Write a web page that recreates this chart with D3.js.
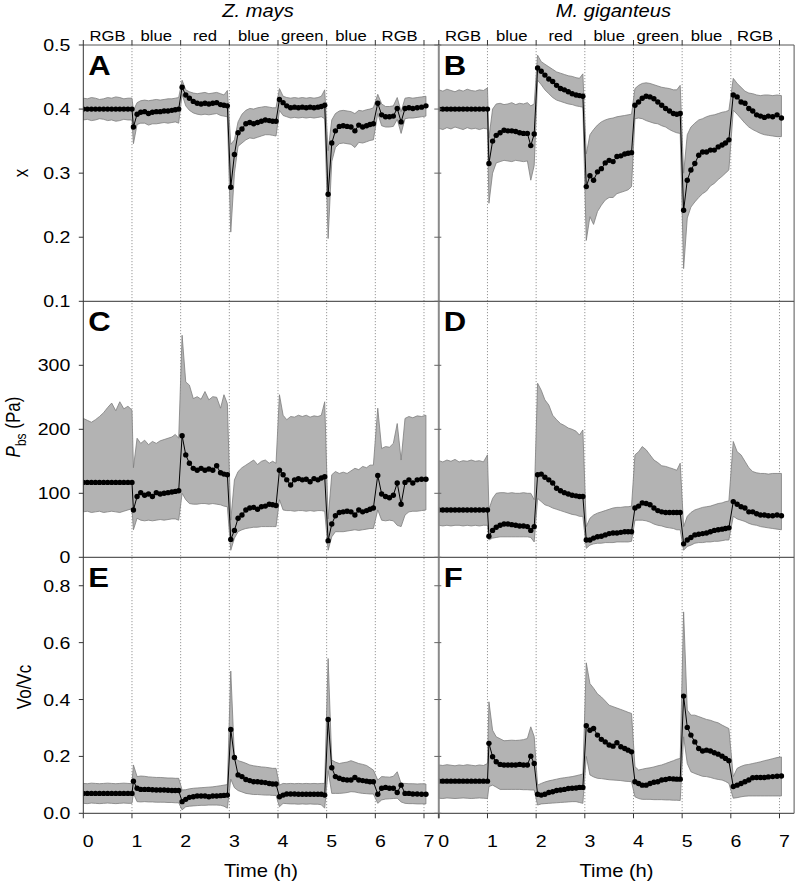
<!DOCTYPE html>
<html><head><meta charset="utf-8">
<script src="https://cdn.jsdelivr.net/npm/d3@7"></script>
<style>
body{margin:0;background:#fff}
svg{display:block}
text{font-family:"Liberation Sans",Arial,Helvetica,sans-serif;fill:#000}
</style>
</head><body>
<svg id="chart" width="797" height="885"></svg>
<script>
// ---------------- DATA ----------------
const timeH = [
  0,0.083,0.167,0.25,0.333,0.417,0.5,0.583,0.667,0.75,0.833,0.917,1.0,
  1.03,1.105,1.18,1.26,1.34,1.42,1.50,1.58,1.66,1.74,1.82,1.89,1.96,
  2.03,2.105,2.18,2.26,2.34,2.42,2.50,2.58,2.66,2.74,2.82,2.89,2.96,
  3.03,3.105,3.18,3.26,3.34,3.42,3.50,3.58,3.66,3.74,3.82,3.89,3.96,
  4.03,4.105,4.18,4.26,4.34,4.42,4.50,4.58,4.66,4.74,4.82,4.89,4.96,
  5.03,5.105,5.18,5.26,5.34,5.42,5.50,5.58,5.66,5.74,5.82,5.89,5.96,
  6.05,6.13,6.21,6.29,6.37,6.45,6.53,6.61,6.69,6.77,6.86,6.95,7.04
];
const periodLabels = ["RGB","blue","red","blue","green","blue","RGB"];
const periodMid = [0.5,1.5,2.5,3.5,4.5,5.5,6.5];
const xTicks = [0,1,2,3,4,5,6,7];
const xTickLabels = ["0","1","2","3","4","5","6","7"];
const speciesNames = ["Z. mays","M. giganteus"];

const yTicksX = [0.1,0.2,0.3,0.4,0.5];
const yTickLabelsX = ["0.1","0.2","0.3","0.4","0.5"];
const yTicksP = [0,100,200,300];
const yTickLabelsP = ["0","100","200","300"];
const yTicksV = [0,0.2,0.4,0.6,0.8];
const yTickLabelsV = ["0.0","0.2","0.4","0.6","0.8"];

// Panel A: Z. mays, x
const meanA = [
  0.400,0.400,0.400,0.400,0.400,0.400,0.400,0.400,0.400,0.400,0.400,0.400,0.400,
  0.372,0.392,0.395,0.396,0.393,0.395,0.396,0.396,0.397,0.397,0.398,0.399,0.400,
  0.434,0.422,0.417,0.412,0.409,0.408,0.409,0.408,0.409,0.410,0.407,0.406,0.405,
  0.278,0.329,0.363,0.369,0.377,0.379,0.377,0.379,0.381,0.383,0.382,0.381,0.381,
  0.415,0.410,0.405,0.402,0.403,0.402,0.403,0.402,0.403,0.402,0.403,0.404,0.406,
  0.267,0.347,0.366,0.373,0.374,0.373,0.372,0.366,0.375,0.372,0.374,0.376,0.377,
  0.409,0.391,0.388,0.388,0.389,0.401,0.380,0.401,0.402,0.401,0.402,0.403,0.405
];
const upperA = [
  0.417,0.416,0.418,0.417,0.415,0.416,0.418,0.417,0.419,0.418,0.416,0.417,0.417,
  0.398,0.410,0.413,0.414,0.413,0.414,0.415,0.414,0.415,0.416,0.416,0.417,0.418,
  0.445,0.430,0.427,0.425,0.424,0.425,0.426,0.424,0.425,0.426,0.424,0.422,0.429,
  0.345,0.352,0.380,0.392,0.398,0.401,0.400,0.402,0.403,0.404,0.403,0.402,0.402,
  0.432,0.420,0.418,0.417,0.418,0.417,0.418,0.417,0.418,0.417,0.418,0.420,0.430,
  0.335,0.383,0.393,0.397,0.398,0.397,0.396,0.393,0.398,0.397,0.399,0.400,0.402,
  0.423,0.408,0.404,0.404,0.405,0.418,0.396,0.417,0.418,0.417,0.418,0.419,0.420
];
const lowerA = [
  0.383,0.384,0.382,0.383,0.385,0.384,0.382,0.383,0.381,0.382,0.384,0.383,0.383,
  0.346,0.376,0.378,0.378,0.375,0.377,0.377,0.378,0.379,0.378,0.379,0.380,0.378,
  0.423,0.405,0.398,0.394,0.392,0.391,0.392,0.391,0.392,0.393,0.390,0.389,0.388,
  0.208,0.300,0.342,0.347,0.352,0.355,0.354,0.356,0.358,0.360,0.360,0.359,0.358,
  0.398,0.390,0.388,0.386,0.387,0.386,0.387,0.386,0.387,0.386,0.387,0.388,0.385,
  0.198,0.318,0.340,0.346,0.347,0.346,0.345,0.340,0.348,0.347,0.349,0.351,0.352,
  0.393,0.374,0.372,0.372,0.373,0.384,0.362,0.385,0.386,0.386,0.387,0.388,0.389
];

// Panel B: M. giganteus, x
const meanB = [
  0.400,0.400,0.400,0.400,0.400,0.400,0.400,0.400,0.400,0.400,0.400,0.400,0.400,
  0.315,0.350,0.359,0.363,0.367,0.366,0.366,0.365,0.363,0.362,0.362,0.343,0.361,
  0.464,0.459,0.453,0.447,0.443,0.437,0.432,0.430,0.427,0.424,0.422,0.421,0.420,
  0.279,0.296,0.289,0.302,0.307,0.316,0.320,0.318,0.326,0.327,0.330,0.331,0.332,
  0.406,0.411,0.417,0.420,0.419,0.416,0.411,0.406,0.401,0.397,0.393,0.392,0.393,
  0.242,0.289,0.305,0.315,0.328,0.333,0.333,0.336,0.336,0.341,0.344,0.347,0.352,
  0.422,0.419,0.411,0.409,0.401,0.397,0.391,0.389,0.387,0.389,0.388,0.391,0.386
];
const upperB = [
  0.430,0.428,0.431,0.429,0.427,0.430,0.428,0.431,0.429,0.428,0.430,0.429,0.433,
  0.355,0.400,0.408,0.409,0.407,0.408,0.410,0.407,0.409,0.408,0.410,0.405,0.408,
  0.484,0.474,0.470,0.466,0.462,0.458,0.456,0.454,0.452,0.451,0.449,0.448,0.455,
  0.330,0.360,0.368,0.375,0.380,0.383,0.385,0.386,0.388,0.389,0.390,0.391,0.392,
  0.432,0.437,0.440,0.441,0.440,0.438,0.436,0.434,0.433,0.432,0.430,0.430,0.437,
  0.300,0.360,0.372,0.378,0.383,0.385,0.388,0.390,0.391,0.393,0.395,0.396,0.398,
  0.448,0.440,0.434,0.428,0.425,0.424,0.422,0.421,0.422,0.422,0.421,0.422,0.421
];
const lowerB = [
  0.370,0.368,0.371,0.369,0.372,0.370,0.368,0.371,0.369,0.370,0.368,0.370,0.369,
  0.253,0.300,0.316,0.318,0.320,0.319,0.318,0.320,0.319,0.318,0.319,0.289,0.312,
  0.445,0.438,0.430,0.424,0.418,0.414,0.412,0.410,0.408,0.407,0.405,0.404,0.403,
  0.195,0.232,0.220,0.240,0.250,0.258,0.262,0.262,0.268,0.270,0.272,0.274,0.279,
  0.385,0.386,0.385,0.382,0.380,0.378,0.377,0.374,0.372,0.368,0.365,0.363,0.362,
  0.151,0.230,0.247,0.255,0.262,0.268,0.272,0.280,0.284,0.290,0.295,0.300,0.305,
  0.398,0.392,0.385,0.378,0.372,0.368,0.365,0.362,0.360,0.359,0.358,0.357,0.357
];

// Panel C: Z. mays, Pbs (Pa)
const meanC = [
  117,117,117,117,117,117,117,117,117,117,117,117,117,
  74,95,101,97,99,95,101,99,100,101,102,103,104,
  190,160,147,139,136,139,136,138,136,143,132,130,129,
  28,42,61,66,74,77,78,75,79,80,83,82,81,
  136,129,121,113,121,123,121,122,118,123,121,124,126,
  26,52,65,70,71,72,71,66,74,71,73,75,77,
  128,99,95,93,97,116,83,117,121,116,121,122,122
];
const upperC = [
  217,214,211,215,220,226,234,241,229,243,232,236,230,
  140,186,178,183,176,181,178,182,184,186,188,192,186,
  347,274,269,248,251,247,259,246,251,250,233,254,240,
  58,121,134,140,144,148,152,145,150,152,147,150,147,
  254,222,215,220,219,222,220,222,219,221,220,222,243,
  60,129,134,131,133,131,135,139,137,142,140,144,144,
  233,170,173,172,178,209,152,217,220,218,221,220,222
];
const lowerC = [
  71,72,70,71,72,70,71,72,71,70,72,74,76,
  43,61,58,57,58,57,58,59,58,59,60,60,58,
  100,90,84,83,83,84,84,83,84,83,82,80,79,
  11,30,40,43,45,46,47,47,48,48,48,48,48,
  90,74,73,73,72,73,73,72,73,72,73,73,72,
  11,32,40,40,40,41,42,43,42,43,44,45,45,
  74,58,57,58,57,50,48,66,71,72,72,73,74
];

// Panel D: M. giganteus, Pbs (Pa)
const meanD = [
  74,74,74,74,74,74,74,74,74,74,74,74,74,
  33,42,47,50,52,52,51,50,49,49,48,42,48,
  129,130,125,121,116,108,104,101,99,97,96,95,95,
  27,27,30,32,33,35,37,38,38,39,40,40,40,
  77,80,85,84,82,77,73,71,70,70,70,70,70,
  21,27,31,35,36,37,38,40,42,43,44,45,46,
  87,83,79,77,71,71,68,66,66,65,65,66,65
];
const upperD = [
  151,149,152,150,153,149,151,150,152,150,151,149,160,
  75,92,100,101,101,100,101,100,100,101,100,100,90,
  272,261,246,238,222,215,209,206,202,200,197,191,199,
  48,61,66,69,71,73,75,77,78,78,79,79,80,
  160,165,173,168,160,152,148,143,142,140,138,136,147,
  48,64,70,74,76,78,79,80,82,84,85,87,88,
  181,165,160,150,140,134,132,131,131,130,131,131,131
];
const lowerD = [
  50,49,50,49,50,50,49,50,49,50,49,50,50,
  27,30,31,32,32,32,32,32,32,32,32,31,24,
  92,87,82,80,77,75,73,71,69,67,66,64,64,
  14,19,21,22,22,23,23,23,24,24,24,24,25,
  58,58,58,57,55,52,50,49,47,46,45,43,43,
  11,17,19,22,23,23,24,24,25,25,26,27,27,
  64,60,58,56,53,51,50,48,47,46,45,44,43
];

// Panel E: Z. mays, Vo/Vc
const meanE = [
  0.070,0.070,0.070,0.070,0.070,0.070,0.070,0.070,0.070,0.070,0.070,0.070,0.070,
  0.113,0.088,0.084,0.084,0.084,0.083,0.082,0.082,0.082,0.081,0.080,0.080,0.080,
  0.041,0.049,0.056,0.058,0.061,0.061,0.061,0.058,0.061,0.061,0.062,0.063,0.064,
  0.295,0.196,0.135,0.129,0.119,0.115,0.111,0.111,0.109,0.108,0.105,0.103,0.103,
  0.058,0.064,0.068,0.068,0.068,0.067,0.067,0.067,0.067,0.067,0.067,0.067,0.064,
  0.330,0.160,0.129,0.123,0.119,0.117,0.117,0.126,0.117,0.115,0.113,0.111,0.111,
  0.067,0.088,0.091,0.088,0.088,0.073,0.099,0.070,0.070,0.068,0.068,0.067,0.067
];
const upperE = [
  0.105,0.104,0.106,0.105,0.104,0.105,0.106,0.105,0.104,0.105,0.106,0.105,0.104,
  0.170,0.129,0.131,0.130,0.128,0.127,0.126,0.126,0.125,0.124,0.124,0.123,0.123,
  0.082,0.083,0.086,0.088,0.089,0.090,0.091,0.092,0.093,0.095,0.097,0.099,0.101,
  0.500,0.199,0.185,0.181,0.176,0.170,0.167,0.165,0.163,0.162,0.160,0.158,0.158,
  0.099,0.105,0.104,0.105,0.104,0.105,0.104,0.105,0.104,0.105,0.104,0.105,0.105,
  0.544,0.187,0.180,0.175,0.178,0.180,0.185,0.180,0.175,0.172,0.168,0.160,0.152,
  0.117,0.129,0.128,0.127,0.130,0.146,0.105,0.105,0.104,0.104,0.103,0.104,0.103
];
const lowerE = [
  0.035,0.034,0.036,0.035,0.034,0.035,0.036,0.035,0.034,0.035,0.036,0.035,0.035,
  0.070,0.041,0.040,0.041,0.040,0.040,0.039,0.039,0.039,0.038,0.038,0.037,0.037,
  0.012,0.023,0.025,0.026,0.027,0.028,0.028,0.029,0.029,0.029,0.028,0.025,0.018,
  0.120,0.090,0.080,0.075,0.070,0.068,0.066,0.066,0.065,0.064,0.064,0.063,0.063,
  0.023,0.035,0.034,0.033,0.033,0.032,0.033,0.032,0.033,0.032,0.032,0.030,0.018,
  0.150,0.070,0.070,0.070,0.071,0.073,0.076,0.075,0.072,0.070,0.069,0.068,0.068,
  0.035,0.047,0.050,0.051,0.052,0.053,0.040,0.035,0.034,0.034,0.033,0.033,0.033
];

// Panel F: M. giganteus, Vo/Vc
const meanF = [
  0.113,0.113,0.113,0.113,0.113,0.113,0.113,0.113,0.113,0.113,0.113,0.113,0.113,
  0.246,0.199,0.181,0.172,0.170,0.170,0.170,0.170,0.172,0.170,0.170,0.201,0.175,
  0.067,0.064,0.067,0.073,0.076,0.080,0.082,0.084,0.087,0.088,0.089,0.091,0.091,
  0.308,0.292,0.298,0.275,0.260,0.251,0.240,0.236,0.248,0.234,0.228,0.222,0.216,
  0.111,0.105,0.099,0.099,0.105,0.109,0.111,0.117,0.119,0.122,0.121,0.120,0.120,
  0.412,0.302,0.275,0.251,0.228,0.219,0.222,0.219,0.213,0.208,0.201,0.193,0.185,
  0.094,0.099,0.105,0.111,0.117,0.125,0.126,0.126,0.126,0.128,0.129,0.130,0.131
];
const upperF = [
  0.170,0.168,0.171,0.169,0.167,0.170,0.168,0.171,0.169,0.167,0.170,0.168,0.175,
  0.392,0.292,0.269,0.262,0.255,0.256,0.257,0.256,0.257,0.259,0.263,0.304,0.270,
  0.099,0.105,0.110,0.114,0.117,0.120,0.123,0.125,0.127,0.129,0.132,0.135,0.138,
  0.529,0.456,0.440,0.420,0.409,0.395,0.380,0.375,0.370,0.365,0.360,0.355,0.351,
  0.164,0.152,0.155,0.158,0.160,0.163,0.167,0.170,0.175,0.180,0.185,0.190,0.193,
  0.708,0.363,0.345,0.345,0.340,0.335,0.330,0.327,0.322,0.318,0.310,0.304,0.298,
  0.129,0.158,0.165,0.170,0.172,0.175,0.178,0.181,0.185,0.188,0.192,0.196,0.198
];
const lowerF = [
  0.053,0.052,0.054,0.053,0.052,0.053,0.054,0.053,0.052,0.053,0.054,0.053,0.052,
  0.094,0.099,0.092,0.084,0.084,0.084,0.084,0.084,0.084,0.083,0.083,0.082,0.082,
  0.029,0.033,0.034,0.035,0.036,0.037,0.038,0.039,0.040,0.041,0.041,0.038,0.035,
  0.200,0.135,0.128,0.123,0.122,0.120,0.118,0.117,0.116,0.115,0.113,0.112,0.111,
  0.058,0.052,0.049,0.049,0.049,0.048,0.048,0.048,0.047,0.047,0.046,0.046,0.045,
  0.269,0.175,0.146,0.140,0.135,0.130,0.129,0.126,0.122,0.119,0.117,0.112,0.105,
  0.053,0.055,0.058,0.060,0.061,0.061,0.061,0.061,0.061,0.061,0.061,0.061,0.061
];

// ---------------- LAYOUT ----------------
const SX = 1.15; // horizontal text stretch seen in the reference
const colLeft = [83.3, 438.8];
const colWidth = 355.3;
const xDomain = [0, 7.3];
const rowTop = [45, 301.3, 557.3];
const rowBottom = [301.3, 557.3, 813.3];
const yDomains = [[0.1, 0.5], [0, 400], [0, 0.9]];
const rowTicks = [yTicksX, yTicksP, yTicksV];
const rowTickLabels = [yTickLabelsX, yTickLabelsP, yTickLabelsV];

const panels = [
  {row:0,col:0,letter:"A",mean:meanA,hi:upperA,lo:lowerA},
  {row:0,col:1,letter:"B",mean:meanB,hi:upperB,lo:lowerB},
  {row:1,col:0,letter:"C",mean:meanC,hi:upperC,lo:lowerC},
  {row:1,col:1,letter:"D",mean:meanD,hi:upperD,lo:lowerD},
  {row:2,col:0,letter:"E",mean:meanE,hi:upperE,lo:lowerE},
  {row:2,col:1,letter:"F",mean:meanF,hi:upperF,lo:lowerF}
];

const svg = d3.select("#chart");
svg.append("rect").attr("width",797).attr("height",885).attr("fill","#fff");

function stext(g, x, y, str, size, anchor) {
  return g.append("text")
    .attr("transform", `translate(${x},${y}) scale(${SX},1)`)
    .attr("text-anchor", anchor)
    .style("font-size", size + "px")
    .text(str);
}

const xScales = colLeft.map(l => d3.scaleLinear().domain(xDomain).range([l, l + colWidth]));
const yScales = [0,1,2].map(r => d3.scaleLinear().domain(yDomains[r]).range([rowBottom[r], rowTop[r]]));

// dotted period lines
xScales.forEach(xs => {
  xTicks.slice(1).forEach(t => {
    svg.append("line")
      .attr("x1", xs(t)).attr("x2", xs(t))
      .attr("y1", rowTop[0]).attr("y2", rowBottom[2])
      .attr("stroke", "#8c8c8c").attr("stroke-width", 0.9)
      .attr("stroke-dasharray", "1.2,1.8");
  });
});

// panels
panels.forEach(p => {
  const xs = xScales[p.col], ys = yScales[p.row];
  const g = svg.append("g");
  const cid = "clip" + p.letter;
  svg.append("clipPath").attr("id", cid).append("rect")
    .attr("x", colLeft[p.col]).attr("y", rowTop[p.row])
    .attr("width", colWidth).attr("height", rowBottom[p.row] - rowTop[p.row]);
  g.attr("clip-path", `url(#${cid})`);
  const area = d3.area()
    .x((d, i) => xs(timeH[i]))
    .y0((d, i) => ys(p.lo[i]))
    .y1((d, i) => ys(p.hi[i]));
  g.append("path").datum(p.mean).attr("d", area)
    .attr("fill", "#b3b3b3").attr("stroke", "#7d7d7d").attr("stroke-width", 0.8);
  const line = d3.line().x((d, i) => xs(timeH[i])).y(d => ys(d));
  g.append("path").datum(p.mean).attr("d", line)
    .attr("fill", "none").attr("stroke", "#000").attr("stroke-width", 1);
  g.selectAll("circle").data(p.mean).join("circle")
    .attr("cx", (d, i) => xs(timeH[i])).attr("cy", d => ys(d))
    .attr("r", 2.7).attr("fill", "#000");
  // panel letter
  svg.append("text")
    .attr("transform", `translate(${colLeft[p.col] + 5},${rowTop[p.row] + 30}) scale(${SX},1)`)
    .style("font-size", "27px").style("font-weight", "bold")
    .text(p.letter);
});

// frame lines
const L = colLeft[0], R = colLeft[1] + colWidth;
[rowTop[0]].forEach(y => svg.append("line").attr("x1", L).attr("x2", R).attr("y1", y).attr("y2", y)
  .attr("stroke", "#555").attr("stroke-width", 1));
[rowBottom[0], rowBottom[1], rowBottom[2]].forEach(y => svg.append("line").attr("x1", L).attr("x2", R).attr("y1", y).attr("y2", y)
  .attr("stroke", "#333").attr("stroke-width", 1));
svg.append("line").attr("x1", L).attr("x2", L).attr("y1", rowTop[0]).attr("y2", rowBottom[2])
  .attr("stroke", "#333").attr("stroke-width", 1);
svg.append("line").attr("x1", colLeft[1]).attr("x2", colLeft[1]).attr("y1", rowTop[0]).attr("y2", rowBottom[2] + 5)
  .attr("stroke", "#8a8a8a").attr("stroke-width", 2);
svg.append("line").attr("x1", R).attr("x2", R).attr("y1", rowTop[0]).attr("y2", rowBottom[2])
  .attr("stroke", "#555").attr("stroke-width", 1);

// y ticks + labels
[0,1,2].forEach(r => {
  const ys = yScales[r];
  rowTicks[r].forEach((v, k) => {
    svg.append("line").attr("x1", L - 4.5).attr("x2", L).attr("y1", ys(v)).attr("y2", ys(v))
      .attr("stroke", "#333").attr("stroke-width", 1);
    svg.append("line").attr("x1", colLeft[1] - 4.5).attr("x2", colLeft[1] + 2.5).attr("y1", ys(v)).attr("y2", ys(v))
      .attr("stroke", "#666").attr("stroke-width", 1);
    stext(svg, L - 13, ys(v) + 6, rowTickLabels[r][k], 17, "end");
  });
});

// x ticks (bottom and top) + labels
xScales.forEach((xs, c) => {
  xTicks.forEach((t, k) => {
    svg.append("line").attr("x1", xs(t)).attr("x2", xs(t)).attr("y1", rowBottom[2]).attr("y2", rowBottom[2] + 5)
      .attr("stroke", "#333").attr("stroke-width", 1);
    svg.append("line").attr("x1", xs(t)).attr("x2", xs(t)).attr("y1", rowTop[0]).attr("y2", rowTop[0] - 5)
      .attr("stroke", "#333").attr("stroke-width", 1);
    stext(svg, xs(t) + 5, 847, xTickLabels[k], 17, "middle");
  });
  periodLabels.forEach((lab, k) => {
    stext(svg, xs(periodMid[k]), 41, lab, 14.5, "middle");
  });
  stext(svg, xs(3.65), 877, "Time (h)", 17.5, "middle");
  stext(svg, (colLeft[c] + colLeft[c] + colWidth) / 2 - 3, 17, speciesNames[c], 17.5, "middle")
    .style("font-style", "italic");
});

// y axis titles
function ytitle(x, y) {
  return svg.append("text")
    .attr("transform", `translate(${x},${y}) scale(${SX},1) rotate(-90)`)
    .attr("text-anchor", "middle")
    .style("font-size", "17px");
}
ytitle(28, 173).text("x");
const tp = ytitle(20, 427);
tp.append("tspan").style("font-style", "italic").text("P");
tp.append("tspan").attr("dy", 5).style("font-size", "12px").text("bs");
tp.append("tspan").attr("dy", -5).text(" (Pa)");
ytitle(31, 687).text("Vo/Vc");
</script>
</body></html>
